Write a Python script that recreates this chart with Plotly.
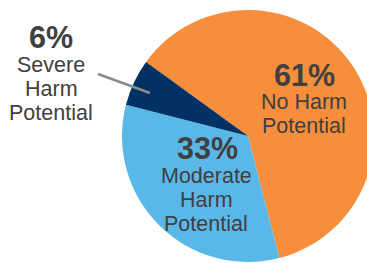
import plotly.graph_objects as go

VW, H = 367, 263   # visible window
W = 380            # figure is a bit wider: the pie is cropped at the right edge

categories = ["No Harm Potential", "Moderate Harm Potential", "Severe Harm Potential"]
values = [61, 33, 6]
pct_labels = ["61%", "33%", "6%"]
name_lines = [["No Harm", "Potential"], ["Moderate", "Harm", "Potential"], ["Severe", "Harm", "Potential"]]
colors = ["#F68E3B", "#5AB8E8", "#023263"]

# pie geometry in pixels
cx, cy, r = 248, 136, 126

fig = go.Figure(go.Pie(
    labels=categories,
    values=values,
    sort=False,
    direction="clockwise",
    rotation=-54,
    marker=dict(colors=colors, line=dict(width=0)),
    textinfo="none",
    hoverinfo="label+percent",
    showlegend=False,
    domain=dict(x=[(cx - r) / W, (cx + r) / W], y=[(H - cy - r) / H, (H - cy + r) / H]),
))

txt = "#404040"
font_family = "Liberation Sans, Arial, sans-serif"
# label block positions (pixels, from top-left): centre x, first-line y
pct_pos = [(304, 75), (207, 148), (51, 37)]
name_pos = [(304, 102), (206, 176), (51, 65)]
line_gap = 24

for i in range(len(values)):
    px, py = pct_pos[i]
    fig.add_annotation(x=px / W, y=1 - py / H, xref="paper", yref="paper",
                       text="<b>" + pct_labels[i] + "</b>", showarrow=False,
                       xanchor="center", yanchor="middle",
                       font=dict(size=30.5, color=txt, family=font_family))
    nx, ny = name_pos[i]
    for j, line in enumerate(name_lines[i]):
        fig.add_annotation(x=nx / W, y=1 - (ny + j * line_gap) / H, xref="paper", yref="paper",
                           text=line, showarrow=False, align="center",
                           xanchor="center", yanchor="middle",
                           font=dict(size=21.5, color=txt, family=font_family))

# leader line for the small slice
fig.add_shape(type="line", xref="paper", yref="paper",
              x0=98 / W, y0=1 - 74 / H, x1=150 / W, y1=1 - 93 / H,
              line=dict(color="#8A8A8A", width=2.5))

fig.update_layout(width=W, height=H, margin=dict(l=0, r=0, t=0, b=0),
                  paper_bgcolor="white", plot_bgcolor="white")

fig.write_html("out.html",
               config={"displayModeBar": False},
               post_script="document.documentElement.style.overflow='hidden';"
                           "document.body.style.overflow='hidden';"
                           "document.body.style.margin='0';")
